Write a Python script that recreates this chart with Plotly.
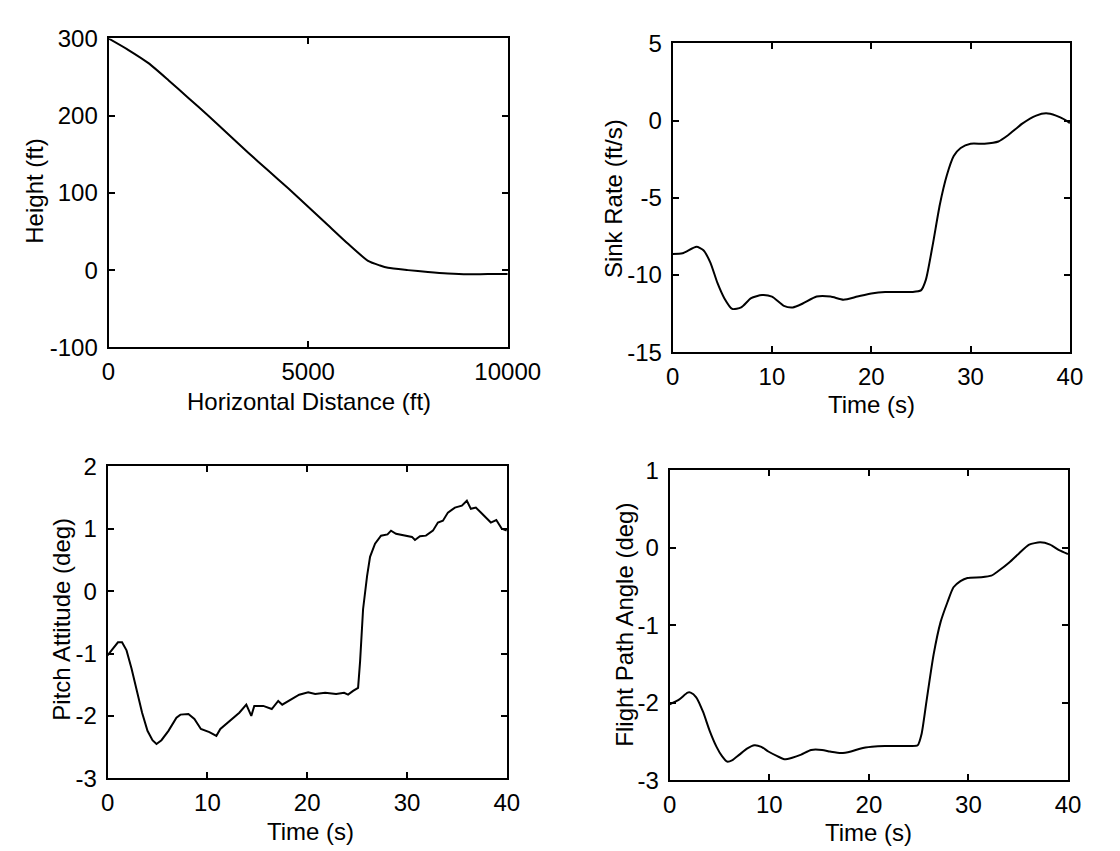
import plotly.graph_objects as go

# ---------------- data ----------------
dist_ft = [0, 500, 1000, 1500, 2000, 2500, 3000, 3500, 4000, 4500, 5000, 5500,
           6000, 6500, 6800, 7000, 7500, 8000, 8500, 9000, 9500, 10000]
height_ft = [300, 285, 268, 246, 223, 200, 176, 152, 129, 106, 82, 58,
             34, 12, 6, 3, 0, -2.5, -4.5, -5.5, -5, -5]

t_sink = [0, 1.0, 2.4, 3.1, 3.8, 4.5, 5.2, 6.0, 6.9, 7.9, 9.0, 10.0, 11.2, 12.1,
          13.1, 14.5, 15.9, 17.2, 18.6, 20.0, 21.4, 22.8, 24.1, 25.0, 25.5, 26.2,
          26.9, 27.6, 28.3, 29.0, 30.0, 31.4, 32.8, 33.8, 35.2, 36.6, 37.6, 38.6,
          39.5, 40.0]
sink_rate = [-8.64, -8.6, -8.18, -8.4, -9.2, -10.5, -11.5, -12.2, -12.1, -11.5,
             -11.3, -11.4, -12.0, -12.1, -11.85, -11.4, -11.4, -11.6, -11.4,
             -11.2, -11.1, -11.1, -11.1, -11.0, -10.3, -8.0, -5.45, -3.56, -2.3,
             -1.78, -1.5, -1.5, -1.36, -0.94, -0.2, 0.32, 0.47, 0.32, 0.05, -0.17]

t_pitch = [0, 0.5, 1.04, 1.45, 1.9, 2.4, 2.9, 3.46, 4.0, 4.5, 4.9, 5.4, 6.1, 6.9,
           7.3, 8.1, 8.7, 9.35, 10.2, 10.9, 11.3, 12.1, 13.2, 13.9, 14.4, 14.7,
           15.6, 16.45, 17.1, 17.5, 18.4, 19.2, 20.1, 20.8, 21.8, 22.9, 23.7,
           24.1, 24.6, 25.1, 25.3, 25.6, 26.0, 26.3, 26.8, 27.4, 28.05, 28.4,
           28.9, 29.8, 30.5, 30.8, 31.3, 31.9, 32.6, 33.1, 33.6, 34.1, 34.8,
           35.5, 36.0, 36.4, 36.9, 37.4, 37.9, 38.4, 38.95, 39.5, 40.0]
pitch_deg = [-1.03, -0.92, -0.82, -0.82, -0.95, -1.24, -1.6, -1.95, -2.24, -2.39,
             -2.45, -2.39, -2.24, -2.03, -1.98, -1.97, -2.05, -2.21, -2.26, -2.32,
             -2.21, -2.1, -1.95, -1.82, -2.0, -1.84, -1.84, -1.89, -1.76, -1.82,
             -1.74, -1.66, -1.62, -1.65, -1.63, -1.65, -1.63, -1.66, -1.6, -1.55,
             -1.13, -0.29, 0.24, 0.55, 0.76, 0.89, 0.91, 0.97, 0.92, 0.89, 0.87,
             0.82, 0.88, 0.89, 0.97, 1.1, 1.13, 1.26, 1.34, 1.37, 1.45, 1.32,
             1.34, 1.26, 1.18, 1.1, 1.14, 1.0, 0.97]

t_fpa = [0, 0.93, 1.8, 2.1, 2.66, 3.35, 4.0, 4.7, 5.25, 5.76, 6.3, 7.0, 7.8, 8.5,
         9.2, 9.9, 10.8, 11.5, 12.3, 13.2, 14.2, 15.3, 16.1, 17.2, 18.2, 19.2,
         20.3, 21.6, 23.0, 24.2, 24.9, 25.3, 25.8, 26.5, 27.2, 27.9, 28.5, 29.2,
         29.9, 31.3, 32.3, 33.0, 34.1, 35.1, 36.1, 37.2, 38.2, 39.1, 40.0]
fpa_deg = [-2.02, -1.96, -1.87, -1.87, -1.93, -2.12, -2.36, -2.57, -2.69, -2.76,
           -2.74, -2.67, -2.59, -2.55, -2.57, -2.63, -2.69, -2.73, -2.71, -2.67,
           -2.61, -2.61, -2.63, -2.65, -2.63, -2.59, -2.57, -2.56, -2.56, -2.56,
           -2.55, -2.40, -1.97, -1.38, -0.96, -0.70, -0.51, -0.43, -0.39, -0.38,
           -0.36, -0.30, -0.19, -0.07, 0.04, 0.07, 0.04, -0.03, -0.08]

# tick values / labels
dist_ticks = [0, 5000, 10000]
height_ticks = [-100, 0, 100, 200, 300]
time_ticks = [0, 10, 20, 30, 40]
sink_ticks = [-15, -10, -5, 0, 5]
pitch_ticks = [-3, -2, -1, 0, 1, 2]
fpa_ticks = [-3, -2, -1, 0, 1]

titles_x = ["Horizontal Distance (ft)", "Time (s)", "Time (s)", "Time (s)"]
titles_y = ["Height (ft)", "Sink Rate (ft/s)", "Pitch Attitude (deg)", "Flight Path Angle (deg)"]

# ---------------- figure ----------------
W, H = 1120, 851
FONT = "Liberation Sans, Arial, Helvetica, sans-serif"
FS = 24
fig = go.Figure()

line = dict(color="black", width=2)
fig.add_trace(go.Scatter(x=dist_ft, y=height_ft, mode="lines",
                         line=dict(line, shape="spline", smoothing=0.6),
                         xaxis="x", yaxis="y", showlegend=False))
fig.add_trace(go.Scatter(x=t_sink, y=sink_rate, mode="lines",
                         line=dict(line, shape="spline", smoothing=0.6),
                         xaxis="x2", yaxis="y2", showlegend=False))
fig.add_trace(go.Scatter(x=t_pitch, y=pitch_deg, mode="lines", line=line,
                         xaxis="x3", yaxis="y3", showlegend=False))
fig.add_trace(go.Scatter(x=t_fpa, y=fpa_deg, mode="lines",
                         line=dict(line, shape="spline", smoothing=0.6),
                         xaxis="x4", yaxis="y4", showlegend=False))


def lab(v):
    return str(v)  # plain hyphen-minus as in the original


def ax(dom, rng, ticks, anchor, standoff):
    return dict(domain=dom, range=rng, tickmode="array", tickvals=ticks,
                ticktext=[lab(v) for v in ticks],
                anchor=anchor, showline=True, linecolor="black", linewidth=2,
                mirror="ticks", ticks="inside", ticklen=6, tickwidth=1.5,
                tickcolor="black", showgrid=False, zeroline=False,
                ticklabelstandoff=standoff,
                tickfont=dict(size=FS, family=FONT, color="black"))


# plot boxes in pixels: (left, right), (top, bottom)
boxes = [((97, 511), (17, 336)),
         ((682, 1094), (22, 341)),
         ((96, 510), (459, 781)),
         ((679, 1092), (463, 783))]
ranges = [([0, 10000], dist_ticks, [-100, 300], height_ticks),
          ([0, 40], time_ticks, [-15, 5], sink_ticks),
          ([0, 40], time_ticks, [-3, 2], pitch_ticks),
          ([0, 40], time_ticks, [-3, 1], fpa_ticks)]
# title centre positions in pixels: x-title (cx, cy), y-title (cx, cy)
title_pos = [((305, 392), (20, 175)),
             ((888, 395), (620, 182)),
             ((306, 836), (48, 617)),
             ((885, 837), (632, 622))]

layout = {}
annotations = []
for i in range(4):
    (x0, x1), (y0, y1) = boxes[i]
    xr, xt, yr, yt = ranges[i]
    sx = "" if i == 0 else str(i + 1)
    layout["xaxis" + sx] = ax([x0 / W, x1 / W], xr, xt, "y" + sx, 2)
    layout["yaxis" + sx] = ax([1 - y1 / H, 1 - y0 / H], yr, yt, "x" + sx, 4)
    (xcx, xcy), (ycx, ycy) = title_pos[i]
    annotations.append(dict(text=titles_x[i], xref="paper", yref="paper",
                            x=xcx / W, y=1 - xcy / H, xanchor="center", yanchor="middle",
                            showarrow=False, font=dict(size=FS, family=FONT, color="black")))
    annotations.append(dict(text=titles_y[i], xref="paper", yref="paper",
                            x=ycx / W, y=1 - ycy / H, xanchor="center", yanchor="middle",
                            textangle=-90, showarrow=False,
                            font=dict(size=FS, family=FONT, color="black")))

fig.update_layout(width=W, height=H, margin=dict(l=0, r=0, t=0, b=0),
                  paper_bgcolor="white", plot_bgcolor="white",
                  font=dict(family=FONT, color="black"),
                  annotations=annotations, **layout)

fig.write_html("out.html")
